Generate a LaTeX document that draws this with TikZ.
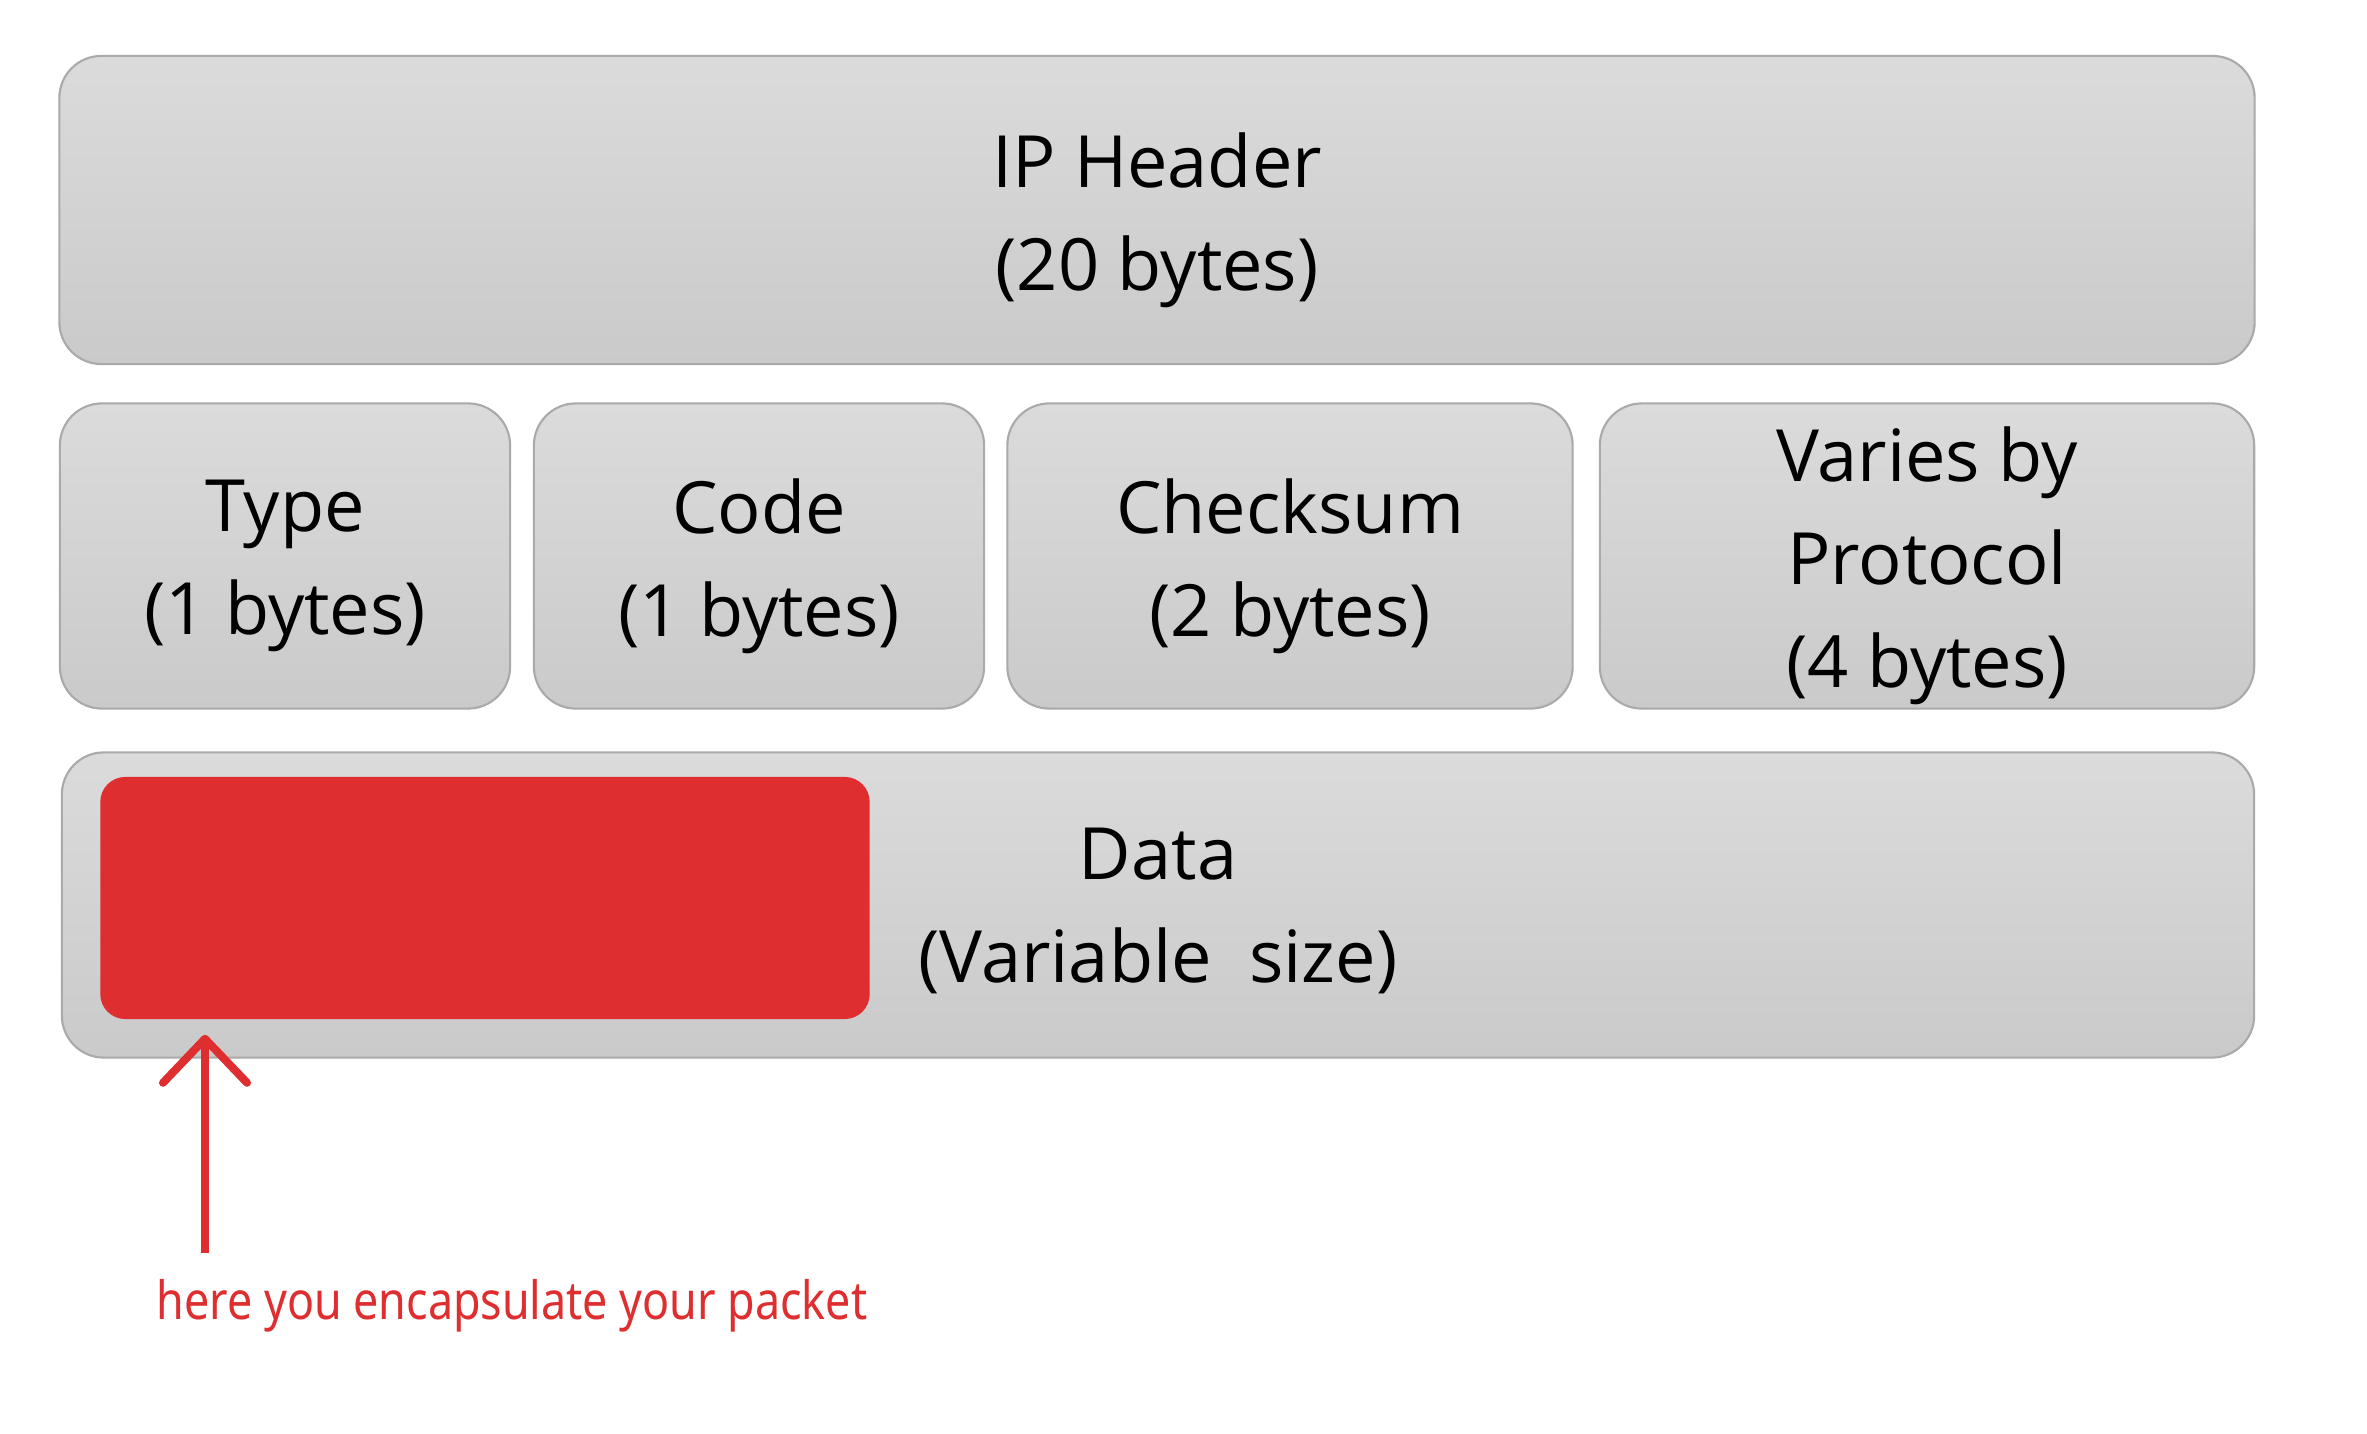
\documentclass[tikz,border=0pt]{standalone}
\usepackage{fontspec}
\setmainfont{Open Sans}
\newfontfamily\redfont[FakeStretch=0.85]{Noto Sans}
\usetikzlibrary{arrows.meta}
\definecolor{boxtop}{HTML}{DBDBDB}
\definecolor{boxbot}{HTML}{CACACA}
\definecolor{boxline}{HTML}{AAAAAA}
\definecolor{encred}{HTML}{DE2E2F}
\begin{document}
\begin{tikzpicture}[x=0.01cm,y=-0.01cm,
  field/.style={draw=boxline, line width=0.6pt, rounded corners=0.42cm,
    top color=boxtop, bottom color=boxbot, inner sep=0pt},
  ftext/.style={align=center, inner sep=0pt, font=\fontsize{20.5}{29.3}\selectfont},
  encbox/.style={fill=encred, draw=none, rounded corners=0.25cm, inner sep=0pt},
  encarrow/.style={draw=encred, line width=0.08cm,
    -{Straight Barb[length=0.44cm, width=0.84cm, round]}},
  enclabel/.style={text=encred, inner sep=0pt, font=\redfont\fontsize{15}{17}\selectfont}]
\useasboundingbox[fill=white] (0,0) rectangle (2367,1434);
\node[field, minimum width=21.94cm, minimum height=3.08cm] (ip) at (1157,210) {};
\node[ftext] (iptext) at ([yshift=-0.1cm]ip.center) {IP Header\\(20 bytes)};
\node[field, minimum width=4.50cm, minimum height=3.05cm] (type) at (285,556) {};
\node[ftext] (typetext) at ([yshift=-0.1cm]type.center) {Type\\(1 bytes)};
\node[field, minimum width=4.50cm, minimum height=3.05cm] (code) at (759,556) {};
\node[ftext] (codetext) at ([yshift=-0.1cm]code.center) {Code\\(1 bytes)};
\node[field, minimum width=5.65cm, minimum height=3.05cm] (check) at (1290,556) {};
\node[ftext] (checktext) at ([yshift=-0.1cm]check.center) {Checksum\\(2 bytes)};
\node[field, minimum width=6.54cm, minimum height=3.05cm] (varies) at (1927,556) {};
\node[ftext] (variestext) at ([yshift=-0.1cm]varies.center) {Varies by\\Protocol\\(4 bytes)};
\node[field, minimum width=21.91cm, minimum height=3.05cm] (data) at (1158,905) {};
\node[ftext] (datatext) at ([yshift=-0.06cm]data.center) {Data\\(Variable\ \ size)};
\node[encbox, minimum width=7.69cm, minimum height=2.42cm] (enc) at (485,898) {};
\coordinate (tail) at (205,1253);
\draw[encarrow] (tail) -- ([yshift=-0.15cm]enc.south -| tail);
\node[enclabel] (lbl) at (512,1306) {here you encapsulate your packet};
\end{tikzpicture}
\end{document}
